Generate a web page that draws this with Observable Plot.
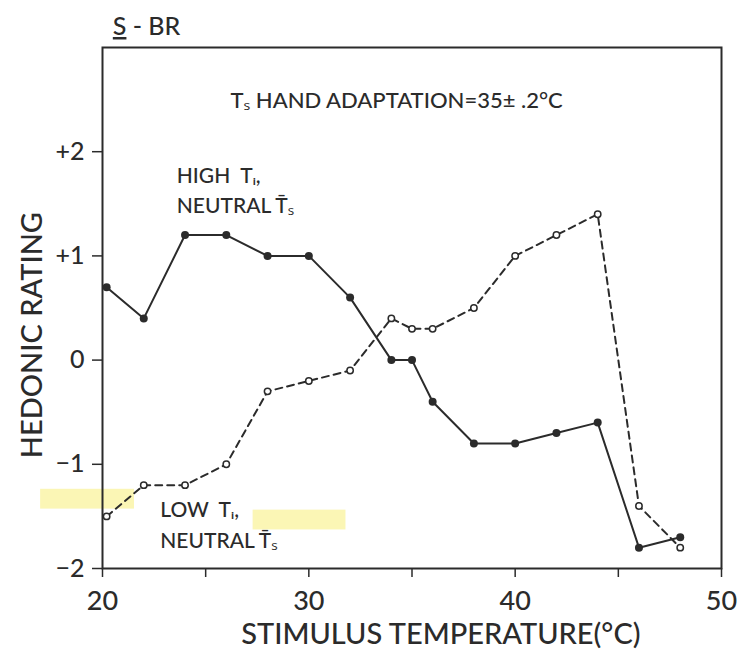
<!DOCTYPE html>
<html>
<head>
<meta charset="utf-8">
<script src="https://cdn.jsdelivr.net/npm/d3@7"></script>
<script src="https://cdn.jsdelivr.net/npm/@observablehq/plot@0.6"></script>
<style>
  html, body { margin: 0; padding: 0; background: #fff; }
</style>
</head>
<body>
<div id="chart"></div>
<script>
// Stimulus temperatures (°C)
const temps = [20.2, 22, 24, 26, 28, 30, 32, 34, 35, 36, 38, 40, 42, 44, 46, 48];
// HIGH Ti, neutral Ts (solid, filled dots)
const highTi = [0.7, 0.4, 1.2, 1.2, 1.0, 1.0, 0.6, 0.0, 0.0, -0.4, -0.8, -0.8, -0.7, -0.6, -1.8, -1.7];
// LOW Ti, neutral Ts (dashed, open circles)
const lowTi = [-1.5, -1.2, -1.2, -1.0, -0.3, -0.2, -0.1, 0.4, 0.3, 0.3, 0.5, 1.0, 1.2, 1.4, -1.4, -1.8];

const xMinorTicks = [20, 25, 30, 35, 40, 45, 50];
const xTickLabels = [20, 30, 40, 50];
const yTicks = [-2, -1, 0, 1, 2];
const yTickLabels = ["\u22122", "\u22121", "0", "+1", "+2"];

const high = temps.map((t, i) => ({t, v: highTi[i]}));
const low = temps.map((t, i) => ({t, v: lowTi[i]}));

const ink = "#2b2b2b";
const font = "Lato, 'Open Sans', sans-serif";
const fw = 500;

const chart = Plot.plot({
  width: 739,
  height: 656,
  marginLeft: 102,
  marginRight: 18,
  marginTop: 47,
  marginBottom: 88,
  x: {domain: [20, 50]},
  y: {domain: [-2, 3]},
  style: {fontFamily: font, color: ink, background: "#fff"},
  marks: [
    // yellow highlight marks present on the scan
    Plot.rect([{x1: 17.0, x2: 21.55, y1: -1.24, y2: -1.43}, {x1: 27.3, x2: 31.8, y1: -1.44, y2: -1.63}],
      {x1: "x1", x2: "x2", y1: "y1", y2: "y2", fill: "#faf5a8", fillOpacity: 0.85, clip: false}),
    Plot.frame({stroke: ink, strokeWidth: 2}),
    Plot.axisX({ticks: xMinorTicks, tickSize: 9, tickFormat: () => "", label: null, stroke: ink, strokeWidth: 1.5}),
    Plot.axisX({ticks: xTickLabels, tickSize: 0, tickPadding: 22, label: null, fontSize: 27, fontWeight: fw, fill: ink}),
    Plot.axisY({ticks: yTicks, tickSize: 10, tickPadding: 8, label: null, fontSize: 25, fontWeight: fw, fill: ink, stroke: ink, strokeWidth: 1.5,
      tickFormat: d => yTickLabels[yTicks.indexOf(d)]}),
    // series
    Plot.line(low, {x: "t", y: "v", stroke: ink, strokeWidth: 2, strokeDasharray: "7,5"}),
    Plot.dot(low, {x: "t", y: "v", r: 3.2, fill: "#fff", stroke: ink, strokeWidth: 1.5}),
    Plot.line(high, {x: "t", y: "v", stroke: ink, strokeWidth: 2}),
    Plot.dot(high, {x: "t", y: "v", r: 4, fill: ink}),
    // annotations
    Plot.text(["S - BR"], {x: 20.5, y: 3.12, textAnchor: "start", lineAnchor: "bottom", fontSize: 25, fontWeight: fw, fill: ink, clip: false}),
    Plot.text(["T\u209B HAND ADAPTATION=35\u00B1 .2°C"], {x: 26.2, y: 2.42, textAnchor: "start", lineAnchor: "bottom", fontSize: 22, fontWeight: fw, fill: ink}),
    Plot.text(["HIGH  T\u1D62,"], {x: 23.6, y: 1.70, textAnchor: "start", lineAnchor: "bottom", fontSize: 21, fontWeight: fw, fill: ink}),
    Plot.text(["NEUTRAL T\u0304\u209B"], {x: 23.6, y: 1.41, textAnchor: "start", lineAnchor: "bottom", fontSize: 21, fontWeight: fw, fill: ink}),
    Plot.text(["LOW  T\u1D62,"], {x: 22.8, y: -1.51, textAnchor: "start", lineAnchor: "bottom", fontSize: 21, fontWeight: fw, fill: ink}),
    Plot.text(["NEUTRAL T\u0304\u209B"], {x: 22.8, y: -1.80, textAnchor: "start", lineAnchor: "bottom", fontSize: 21, fontWeight: fw, fill: ink}),
    // axis titles
    Plot.text(["HEDONIC RATING"], {x: 16.6, y: 0.24, rotate: -90, fontSize: 29, fontWeight: fw, fill: ink, clip: false}),
    Plot.text(["STIMULUS TEMPERATURE(°C)"], {x: 36.4, y: -2.72, lineAnchor: "bottom", fontSize: 29, fontWeight: fw, fill: ink, clip: false})
  ]
});
document.getElementById("chart").appendChild(chart);

// underline the "S" of the panel title
d3.select(chart).selectAll("text").filter(function() { return this.textContent === "S - BR"; })
  .each(function() {
    const t = d3.select(this);
    t.text(null);
    t.append("tspan").attr("text-decoration", "underline").text("S");
    t.append("tspan").text(" - BR");
  });
</script>
</body>
</html>
